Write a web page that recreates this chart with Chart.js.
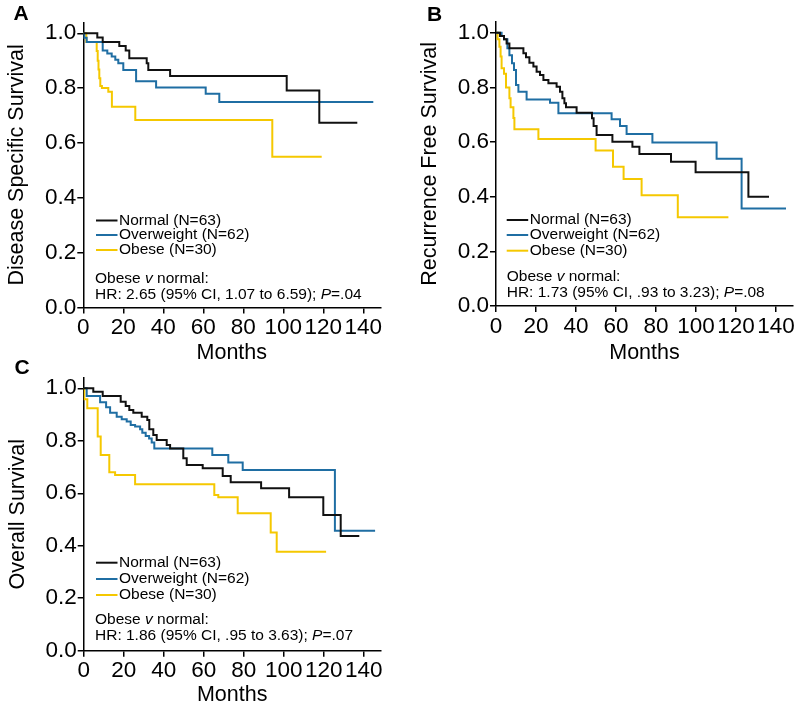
<!DOCTYPE html>
<html>
<head>
<meta charset="utf-8">
<script src="https://cdn.jsdelivr.net/npm/chart.js@4.4.1/dist/chart.umd.min.js"></script>
<style>
  html, body { margin: 0; padding: 0; background: #fff; }
  #page { position: relative; width: 800px; height: 711px; overflow: hidden; background: #fff; }
  .panel { position: absolute; }
</style>
</head>
<body>
<div id="page">
  <canvas id="chartA" class="panel" width="400" height="366" style="left:0;top:0"></canvas>
  <canvas id="chartB" class="panel" width="400" height="366" style="left:400px;top:0"></canvas>
  <canvas id="chartC" class="panel" width="400" height="361" style="left:0;top:350px"></canvas>
</div>
<script>
// ---- data (months, survival) ----
const seriesLabels = ['Normal (N=63)', 'Overweight (N=62)', 'Obese (N=30)'];
const seriesColors = ['#111111', '#1f6ea3', '#f5c800'];

const xTicks = [0, 20, 40, 60, 80, 100, 120, 140];
const yTicks = [0, 0.2, 0.4, 0.6, 0.8, 1.0];

// A: disease specific survival
const dssNormal = [[0,1],[7,0.985],[9.7,0.968],[18,0.954],[21.2,0.937],[23,0.909],[31.7,0.891],[32.5,0.866],
  [43.4,0.844],[101.7,0.791],[118,0.674],[137,0.674]];
const dssOverweight = [[0,1],[0.5,0.984],[1.7,0.968],[9.7,0.937],[12,0.926],[14.2,0.915],[16,0.903],[17.5,0.891],
  [20,0.866],[26.4,0.825],[36.4,0.802],[61.2,0.779],[68,0.749],[145,0.749]];
const dssObese = [[0,1],[1.5,0.968],[6.7,0.935],[7.2,0.9],[7.6,0.868],[8,0.836],[8.5,0.808],[9.3,0.8],
  [12.5,0.787],[14.3,0.732],[26,0.684],[94.5,0.55],[119.2,0.55]];

// B: recurrence free survival
const rfsNormal = [[0,1],[2,0.988],[4,0.976],[5.3,0.961],[6.7,0.943],[13.7,0.925],[15,0.91],[16.7,0.89],
  [18.7,0.876],[20.3,0.857],[22,0.845],[23.7,0.827],[26.2,0.815],[30.3,0.802],[32,0.784],[33.2,0.76],
  [34.2,0.742],[35,0.727],[40.3,0.707],[48,0.687],[48.8,0.659],[50.3,0.626],[58.2,0.601],[68.2,0.583],
  [71.7,0.556],[87.5,0.528],[99.8,0.489],[126.2,0.4],[136.5,0.4]];
const rfsOverweight = [[0,1],[2.8,0.988],[4,0.976],[5.7,0.943],[6.7,0.918],[8,0.888],[9,0.864],[10,0.809],
  [11.2,0.784],[15.3,0.756],[27,0.744],[31.2,0.705],[57.8,0.683],[62,0.659],[65.3,0.629],[78.2,0.598],
  [110.3,0.539],[122.8,0.357],[145,0.357]];
const rfsObese = [[0,1],[0.8,0.976],[1.7,0.949],[2.3,0.913],[2.8,0.87],[4,0.85],[5,0.8],[6.7,0.76],
  [7.3,0.727],[8.7,0.688],[9.2,0.647],[21.2,0.611],[49.8,0.569],[58.5,0.51],[63.8,0.465],[72.8,0.405],
  [90.9,0.325],[116.2,0.325]];

// C: overall survival
const osNormal = [[0,1],[4.8,0.987],[9.5,0.971],[18.5,0.949],[21,0.933],[22.8,0.917],[24.8,0.907],[29,0.892],
  [31.8,0.879],[32.8,0.844],[34.8,0.822],[36.5,0.803],[41.5,0.784],[43.2,0.771],[49.8,0.733],[51.5,0.708],
  [59.5,0.695],[69.5,0.666],[73.5,0.642],[88.7,0.619],[102.7,0.585],[119.8,0.517],[128.5,0.437],[137.8,0.437]];
const osOverweight = [[0,1],[1.5,0.971],[8.2,0.947],[11.2,0.928],[13.2,0.907],[16.5,0.892],[19,0.882],
  [21.5,0.873],[23.5,0.86],[25.7,0.854],[28.2,0.844],[29.3,0.831],[31,0.818],[32.7,0.809],[34,0.793],
  [35.3,0.771],[64.3,0.746],[72.3,0.717],[79.5,0.689],[125.6,0.457],[145.7,0.457]];
const osObese = [[0,1],[0.3,0.958],[1.8,0.924],[7,0.816],[8.5,0.746],[12.8,0.68],[15.7,0.67],[25.7,0.634],
  [65.3,0.593],[67.3,0.585],[77,0.524],[93.5,0.45],[96.5,0.377],[121.2,0.377]];

const hrTexts = ['2.65 (95% CI, 1.07 to 6.59)', '1.73 (95% CI, .93 to 3.23)', '1.86 (95% CI, .95 to 3.63)'];
const pTexts  = ['.04', '.08', '.07'];

const FONT = "'Liberation Sans', Arial, Helvetica, sans-serif";

// legend, panel letter and HR note drawn inside the plot
const kmText = {
  id: 'kmText',
  afterDraw(chart, args, o) {
    const { ctx, chartArea: a } = chart;
    ctx.save();
    ctx.fillStyle = '#000';
    ctx.textBaseline = 'middle';
    ctx.textAlign = 'center';
    ctx.font = `bold 21px ${FONT}`;
    ctx.fillText(o.letter, o.letterX, o.letterY);

    ctx.textAlign = 'left';
    ctx.font = `15.5px ${FONT}`;
    chart.data.datasets.forEach((ds, i) => {
      const y = a.bottom + o.legendY[i];
      ctx.strokeStyle = ds.borderColor;
      ctx.lineWidth = 2;
      ctx.beginPath();
      ctx.moveTo(a.left + o.legendX, y);
      ctx.lineTo(a.left + o.legendX + 21.5, y);
      ctx.stroke();
      ctx.fillText(ds.label, a.left + o.legendX + 23, y);
    });

    const lines = [
      [['Obese ', false], ['v', true], [' normal:', false]],
      [[`HR: ${o.hr}; `, false], ['P', true], [`=${o.p}`, false]]
    ];
    lines.forEach((segs, li) => {
      let x = a.left + o.noteX;
      const y = a.bottom + o.noteY[li];
      segs.forEach(([t, it]) => {
        ctx.font = `${it ? 'italic ' : ''}15.5px ${FONT}`;
        ctx.fillText(t, x, y);
        x += ctx.measureText(t).width;
      });
    });
    ctx.restore();
  }
};

function makeChart(id, sets, yTitle, p) {
  return new Chart(document.getElementById(id), {
    type: 'line',
    data: {
      datasets: sets.map((d, i) => ({
        label: seriesLabels[i],
        data: d,
        borderColor: seriesColors[i],
        borderWidth: 2,
        stepped: 'before',
        pointRadius: 0,
        fill: false
      }))
    },
    options: {
      responsive: false,
      animation: false,
      layout: { padding: p.pad },
      plugins: {
        legend: { display: false },
        tooltip: { enabled: false },
        kmText: p.text
      },
      scales: {
        x: {
          type: 'linear', min: 0, max: 148.5,
          afterBuildTicks: (s) => { s.ticks = xTicks.map(v => ({ value: v })); },
          afterFit: (s) => { s.height = p.xHeight; s.paddingLeft = 0; s.paddingRight = 0; },
          ticks: { color: '#000', font: { family: FONT, size: 22.5 }, padding: 1, maxRotation: 0, autoSkip: false },
          grid: { drawOnChartArea: false, drawTicks: true, tickLength: 6, color: '#000', lineWidth: 1.5 },
          border: { color: '#000', width: 1.5 },
          title: { display: true, text: 'Months', color: '#000', font: { family: FONT, size: 21.5 },
                   padding: { top: 0, bottom: p.xTitlePad } }
        },
        y: {
          type: 'linear', min: 0, max: 1.04,
          afterBuildTicks: (s) => { s.ticks = yTicks.map(v => ({ value: v })); },
          afterFit: (s) => { s.width = p.yWidth; },
          ticks: { color: '#000', font: { family: FONT, size: 22.5 }, padding: 1,
                   callback: (v) => Number(v).toFixed(1) },
          grid: { drawOnChartArea: false, drawTicks: true, tickLength: 6, color: '#000', lineWidth: 1.5 },
          border: { color: '#000', width: 1.5 },
          title: { display: true, text: yTitle, color: '#000', font: { family: FONT, size: 21.5 },
                   padding: { top: p.yTitlePad, bottom: 0 } }
        }
      }
    },
    plugins: [kmText]
  });
}

makeChart('chartA', [dssNormal, dssOverweight, dssObese], 'Disease Specific Survival', {
  pad: { left: 0, top: 22.3, right: 19.7, bottom: 0 },
  yWidth: 83.3, xHeight: 58.5, yTitlePad: 3.8, xTitlePad: 0,
  text: { letter: 'A', letterX: 21, letterY: 14.5, legendX: 12.7, legendY: [-87, -72.5, -57.5],
          noteX: 11.7, noteY: [-28.5, -13.2], hr: hrTexts[0], p: pTexts[0] }
});

makeChart('chartB', [rfsNormal, rfsOverweight, rfsObese], 'Recurrence Free Survival', {
  pad: { left: 0, top: 21.8, right: 7, bottom: 0 },
  yWidth: 96, xHeight: 60, yTitlePad: 17.2, xTitlePad: 0,
  text: { letter: 'B', letterX: 34.5, letterY: 15, legendX: 10.7, legendY: [-86, -71, -55.3],
          noteX: 10.7, noteY: [-29.3, -13.3], hr: hrTexts[1], p: pTexts[1] }
});

makeChart('chartC', [osNormal, osOverweight, osObese], 'Overall Survival', {
  pad: { left: 0, top: 27.8, right: 19.3, bottom: 0 },
  yWidth: 83.7, xHeight: 60.3, yTitlePad: 5.5, xTitlePad: 3.1,
  text: { letter: 'C', letterX: 22, letterY: 18, legendX: 12.3, legendY: [-88, -71.7, -55.7],
          noteX: 11.3, noteY: [-30.7, -14.7], hr: hrTexts[2], p: pTexts[2] }
});
</script>
</body>
</html>
